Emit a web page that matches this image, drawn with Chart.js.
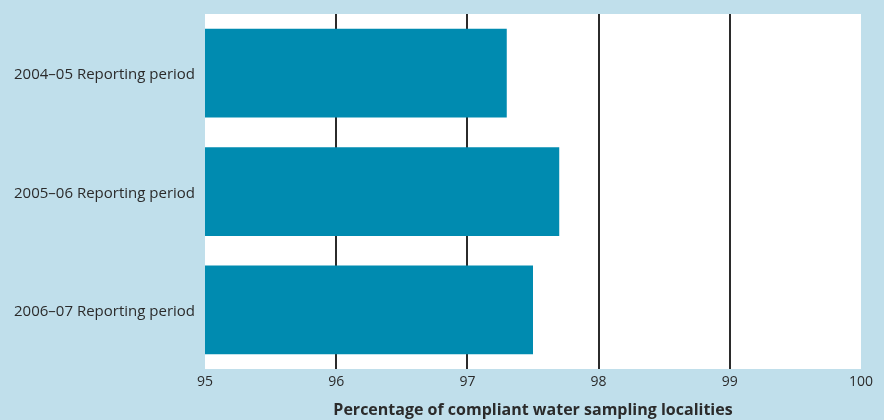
<!DOCTYPE html>
<html>
<head>
<meta charset="utf-8">
<script src="https://cdn.jsdelivr.net/npm/chart.js@4/dist/chart.umd.min.js"></script>
<style>
  html, body { margin: 0; padding: 0; background: #c0dfeb; }
  #wrap { width: 884px; height: 420px; }
</style>
</head>
<body>
<div id="wrap"><canvas id="c" width="884" height="420"></canvas></div>
<script>
// Reporting periods and share of compliant sampling localities (%)
const periods = ['2004–05 Reporting period', '2005–06 Reporting period', '2006–07 Reporting period'];
const compliance = [97.3, 97.7, 97.5];
const axisMin = 95;
const axisMax = 100;
const axisTitle = 'Percentage of compliant water sampling localities';

// Paint the plotting area white on top of the blue page
const plotBackground = {
  id: 'plotBackground',
  beforeDraw(chart) {
    const { ctx, chartArea: a } = chart;
    ctx.save();
    ctx.fillStyle = '#ffffff';
    ctx.fillRect(a.left, a.top, a.right - a.left, a.bottom - a.top);
    ctx.restore();
  }
};

new Chart(document.getElementById('c'), {
  type: 'bar',
  data: {
    labels: periods,
    datasets: [{
      data: compliance,
      backgroundColor: '#008bb0',
      borderWidth: 0,
      barPercentage: 0.75,
      categoryPercentage: 1.0
    }]
  },
  options: {
    indexAxis: 'y',
    responsive: false,
    animation: false,
    layout: { padding: { top: 14, right: 23, bottom: 0, left: 0 } },
    plugins: {
      legend: { display: false },
      tooltip: { enabled: false }
    },
    scales: {
      x: {
        min: axisMin,
        max: axisMax,
        border: { display: false },
        grid: {
          drawTicks: false,
          lineWidth: 2,
          color: (c) => (c.tick && (c.tick.value === axisMin || c.tick.value === axisMax)) ? 'rgba(0,0,0,0)' : '#2b2b2b'
        },
        ticks: {
          stepSize: 1,
          padding: 5,
          color: '#2b2b2b',
          font: { family: 'Open Sans', size: 14, weight: 500 }
        },
        title: {
          display: true,
          text: axisTitle,
          color: '#2b2b2b',
          padding: { top: 4, bottom: 0 },
          font: { family: 'Open Sans', size: 16, weight: 'bold' }
        },
        afterFit(scale) {
          scale.height = 51;
          scale.paddingLeft = 0;
          scale.paddingRight = 0;
        }
      },
      y: {
        border: { display: false },
        grid: { display: false, drawTicks: false },
        ticks: {
          padding: 10,
          labelOffset: 2,
          color: '#2b2b2b',
          font: { family: 'Open Sans', size: 15, weight: 500 }
        },
        afterFit(scale) {
          scale.width = 205;
          scale.paddingTop = 0;
          scale.paddingBottom = 0;
        }
      }
    }
  },
  plugins: [plotBackground]
});
</script>
</body>
</html>
